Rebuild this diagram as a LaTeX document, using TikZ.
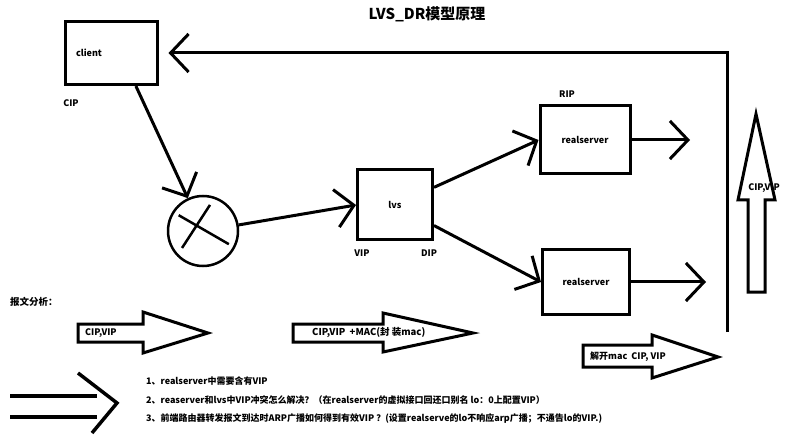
\documentclass[tikz,border=0pt]{standalone}
\usepackage{fontspec}
\setmainfont{Noto Sans CJK SC}
\usetikzlibrary{arrows.meta}

\tikzset{
  box/.style={draw, line width=3pt, inner sep=0pt, font=\fontsize{9}{11}\selectfont\bfseries},
  conn/.style={line width=3pt, -{Straight Barb[length=18pt,width=38pt]}},
  fat/.style={draw, line width=3pt, line join=miter},
  lbl/.style={font=\fontsize{9}{11}\selectfont\bfseries, inner sep=0pt},
  note/.style={font=\fontsize{9}{11}\selectfont\bfseries, anchor=west, inner sep=0pt}
}

\begin{document}
\begin{tikzpicture}[x=1pt, y=-1pt]
            \useasboundingbox (0,0) rectangle (802,435);
            \node[lbl, font=\fontsize{15}{18}\selectfont\bfseries] (title) at (427,14) {LVS\_DR模型原理};

            % hosts
            \node[box, minimum width=92pt, minimum height=63pt, text width=70pt, align=left] (client) at (111,53) {client};
            \node[draw, circle, line width=2.5pt, minimum size=70pt] (router) at (203,231) {};
            \node[box, minimum width=75pt, minimum height=70pt] (lvs) at (395,205) {lvs};
            \node[box, minimum width=90pt, minimum height=68pt] (rs1) at (585,140) {realserver};
            \node[box, minimum width=87pt, minimum height=65pt] (rs2) at (586,282) {realserver};
            \node[lbl] (cip) at (71,103) {CIP};
            \node[lbl] (rip) at (567,94) {RIP};
            \node[lbl] (vip) at (362,253) {VIP};
            \node[lbl] (dip) at (429,253) {DIP};

            % router cross
            \draw[line width=2.5pt] ([shift={(147:29pt)}]router.center) -- ([shift={(-27:29pt)}]router.center);
            \draw[line width=2.5pt] ([shift={(219:27pt)}]router.center) -- ([shift={(75:27pt)}]router.center);

            % packet path
            \coordinate (rs1out) at (690,140);
            \coordinate (rs2out) at (706,282);
            \coordinate (retfoot) at (727,332);
            \draw[conn] (client.-53) -- (router);
            \draw[conn] (router) -- (lvs.west);
            \draw[conn] (lvs) -- (rs1.west);
            \draw[conn] (lvs) -- (rs2.west);
            \draw[conn] (rs1.east) -- (rs1out);
            \draw[conn] (rs2.east) -- (rs2out);
            \draw[conn, shorten >=10pt] (retfoot) |- (client.east);

            % fat arrows
            \draw[fat] (748,292) -- (748,200) -- (738,200) -- (756,114) -- (775,200) -- (765,200) -- (765,292) -- cycle;
            \node[lbl] (up) at (764,188) {CIP,VIP};
            \draw[fat] (78,324) -- (143,324) -- (143,312) -- (208,333) -- (143,353) -- (143,342) -- (78,342) -- cycle;
            \node[lbl, anchor=west] (pk1) at (85,333) {CIP,VIP};
            \draw[fat] (293,324) -- (383,324) -- (383,313) -- (473,333) -- (383,352) -- (383,342) -- (293,342) -- cycle;
            \node[lbl, anchor=west, font=\fontsize{9.5}{11}\selectfont\bfseries] (pk2) at (312,333) {CIP,VIP \ +MAC(封 装mac)};
            \draw[fat] (583,345) -- (652,345) -- (652,335) -- (718,357) -- (652,378) -- (652,367) -- (583,367) -- cycle;
            \node[lbl, anchor=west] (pk3) at (590,357) {解开mac \ CIP, VIP};

            % notes
            \node[lbl, anchor=west, font=\fontsize{9.5}{11}\selectfont\bfseries] (analysis) at (10,302) {报文分析：};
            \draw[line width=3.5pt] (10,396) -- (97,396);
            \draw[line width=3.5pt] (10,417) -- (97,417);
            \draw[line width=3.5pt] (78,373) -- (117,403) -- (92,433);
            \node[note] (n1) at (146,381) {1、realserver中需要含有VIP};
            \node[note] (n2) at (146,400) {2、reaserver和lvs中VIP冲突怎么解决？（在realserver的虚拟接口回还口别名 lo：0上配置VIP）};
            \node[note] (n3) at (146,419) {3、前端路由器转发报文到达时ARP广播如何得到有效VIP ？(设置realserve的lo不响应arp广播；不通告lo的VIP.)};
\end{tikzpicture}
\end{document}
